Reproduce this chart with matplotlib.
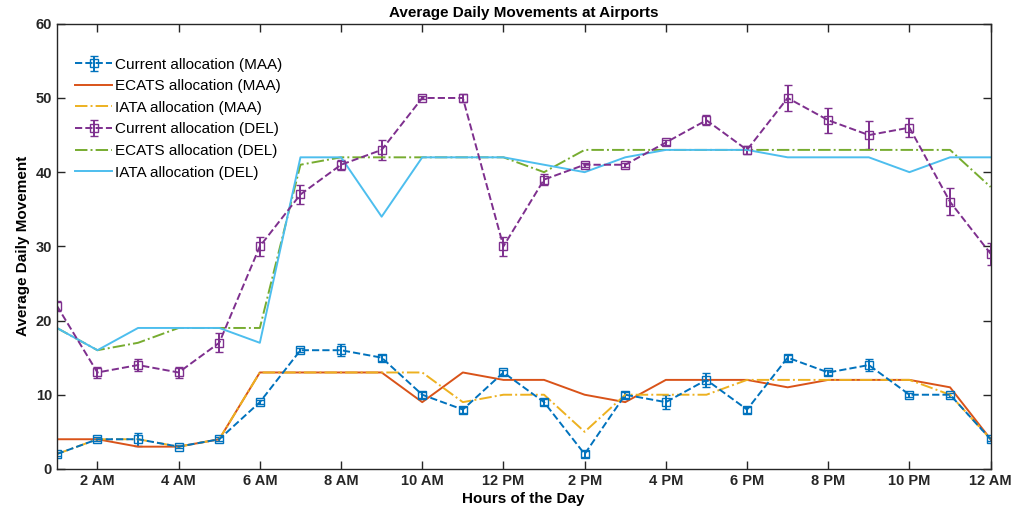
import matplotlib
matplotlib.use("Agg")
import matplotlib.pyplot as plt

hours = list(range(1, 25))
tick_pos = [2, 4, 6, 8, 10, 12, 14, 16, 18, 20, 22, 24]
tick_labels = ["2 AM", "4 AM", "6 AM", "8 AM", "10 AM", "12 PM",
               "2 PM", "4 PM", "6 PM", "8 PM", "10 PM", "12 AM"]

cur_maa = [2, 4, 4, 3, 4, 9, 16, 16, 15, 10, 8, 13,
           9, 2, 10, 9, 12, 8, 15, 13, 14, 10, 10, 4]
cur_maa_err = [0.3, 0.3, 0.9, 0.2, 0.3, 0.3, 0.3, 0.8, 0.4, 0.4, 0.4, 0.3,
               0.4, 0.4, 0.4, 0.9, 0.9, 0.4, 0.4, 0.3, 0.8, 0.3, 0.3, 0.3]
ecats_maa = [4, 4, 3, 3, 4, 13, 13, 13, 13, 9, 13, 12,
             12, 10, 9, 12, 12, 12, 11, 12, 12, 12, 11, 4]
iata_maa = [2, 4, 4, 3, 4, 13, 13, 13, 13, 13, 9, 10,
            10, 5, 10, 10, 10, 12, 12, 12, 12, 12, 10, 4]

cur_del = [22, 13, 14, 13, 17, 30, 37, 41, 43, 50, 50, 30,
           39, 41, 41, 44, 47, 43, 50, 47, 45, 46, 36, 29]
cur_del_err = [0.7, 0.7, 0.8, 0.7, 1.3, 1.3, 1.3, 0.7, 1.3, 0.2, 0.5, 1.3,
               0.7, 0.3, 0.3, 0.3, 0.7, 0.5, 1.7, 1.7, 1.9, 1.3, 1.8, 1.5]
ecats_del = [19, 16, 17, 19, 19, 19, 41, 42, 42, 42, 42, 42,
             40, 43, 43, 43, 43, 43, 43, 43, 43, 43, 43, 38]
iata_del = [19, 16, 19, 19, 19, 17, 42, 42, 34, 42, 42, 42,
            41, 40, 42, 43, 43, 43, 42, 42, 42, 40, 42, 42]

plt.rcParams["font.family"] = ["Liberation Sans", "DejaVu Sans"]

fig = plt.figure(figsize=(10.15, 5.17), dpi=100)
ax = fig.add_axes([0.056, 0.093, 0.92, 0.861])

h1 = ax.errorbar(hours, cur_maa, yerr=cur_maa_err, color="#0072BD", ls="--",
                 marker="s", mfc="none", ms=5.5, lw=1.4, capsize=3,
                 label="Current allocation (MAA)")
h2, = ax.plot(hours, ecats_maa, color="#D95319", ls="-", lw=1.4,
              label="ECATS allocation (MAA)")
h3, = ax.plot(hours, iata_maa, color="#EDB120", ls="-.", lw=1.4,
              label="IATA allocation (MAA)")
h4 = ax.errorbar(hours, cur_del, yerr=cur_del_err, color="#7E2F8E", ls="--",
                 marker="s", mfc="none", ms=5.5, lw=1.4, capsize=3,
                 label="Current allocation (DEL)")
h5, = ax.plot(hours, ecats_del, color="#77AC30", ls="-.", lw=1.4,
              label="ECATS allocation (DEL)")
h6, = ax.plot(hours, iata_del, color="#4DBEEE", ls="-", lw=1.4,
              label="IATA allocation (DEL)")

ax.set_xlim(1, 24)
ax.set_ylim(0, 60)
ax.set_xticks(tick_pos)
ax.set_xticklabels(tick_labels, fontweight="bold", fontsize=10.5, color="#262626")
ax.set_yticks(range(0, 61, 10))
ax.set_yticklabels([str(v) for v in range(0, 61, 10)], fontweight="bold",
                   fontsize=10.5, color="#262626")
ax.tick_params(direction="in", top=True, right=True, length=6, width=1,
               colors="#262626")
for s in ax.spines.values():
    s.set_color("#262626")
    s.set_linewidth(1)

ax.set_title("Average Daily Movements at Airports", fontweight="bold",
             fontsize=11, pad=5)
ax.set_xlabel("Hours of the Day", fontweight="bold", fontsize=11, labelpad=3)
ax.set_ylabel("Average Daily Movement", fontweight="bold", fontsize=11)

handles = [h1, h2, h3, h4, h5, h6]
ax.legend(handles, [h.get_label() for h in handles], loc="upper left",
          bbox_to_anchor=(0.005, 0.955), frameon=False,
          fontsize=11, handlelength=2.4, handletextpad=0.2, labelspacing=0.5)

fig.savefig("out.png", dpi=100)
